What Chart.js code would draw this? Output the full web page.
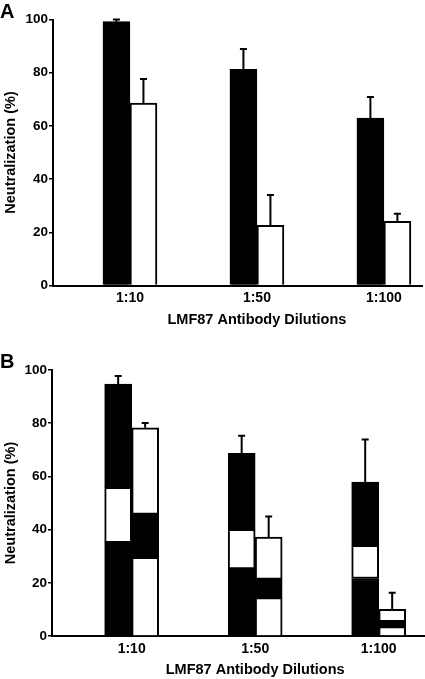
<!DOCTYPE html>
<html>
<head>
<meta charset="utf-8">
<script src="https://cdn.jsdelivr.net/npm/chart.js@4.4.1/dist/chart.umd.min.js"></script>
<style>
  html, body { margin: 0; padding: 0; background: #fff; }
  #wrap { position: relative; width: 425px; height: 679px; }
  .panel { position: absolute; left: 0; width: 425px; }
</style>
</head>
<body>
<div id="wrap">
  <div class="panel" style="top:0;height:335px"><canvas id="chartA" width="425" height="335"></canvas></div>
  <div class="panel" style="top:335px;height:344px"><canvas id="chartB" width="425" height="344"></canvas></div>
</div>
<script>
const dilutions = ['1:10', '1:50', '1:100'];
const yTicks = [0, 20, 40, 60, 80, 100];
const xTitle = 'LMF87 Antibody Dilutions';
const yTitle = 'Neutralization (%)';

// panel A
const aFilled = [99.2, 81.3, 62.9];
const aFilledErr = [100, 88.9, 70.9];
const aOpen = [68.6, 22.6, 24.1];
const aOpenErr = [77.6, 34, 27];

// panel B - every bar has a low band edge, a mid band edge and a top
const bFilledLow = [35.1, 25.2, 21.6];
const bFilledMid = [55.9, 40.1, 34.1];
const bFilledTop = [94.7, 68.7, 57.9];
const bFilledErr = [97.7, 75.3, 73.9];
const bOpenLow = [29.6, 14.4, 3.5];
const bOpenMid = [45.7, 21.3, 5.4];
const bOpenTop = [78.3, 37.2, 10.0];
const bOpenErr = [80.1, 44.9, 16.3];

const FONT = '"Liberation Sans", Arial, Helvetica, sans-serif';
Chart.defaults.font.family = FONT;
Chart.defaults.color = '#000';

const errorBars = {
    id: 'errorBars',
    afterDatasetsDraw(chart) {
        const ctx = chart.ctx;
        const y = chart.scales.y;
        chart.data.datasets.forEach((ds, di) => {
            if (!ds.errors) return;
            const meta = chart.getDatasetMeta(di);
            meta.data.forEach((bar, i) => {
                const top = y.getPixelForValue(ds.errors[i]);
                ctx.save();
                ctx.strokeStyle = '#000';
                ctx.lineWidth = 2;
                ctx.beginPath();
                ctx.moveTo(bar.x, bar.y);
                ctx.lineTo(bar.x, top);
                ctx.moveTo(bar.x - 3.5, top);
                ctx.lineTo(bar.x + 3.5, top);
                ctx.stroke();
                ctx.restore();
            });
        });
    }
};

// panel letter + x title (title sits under the middle group, not the axis centre)
const panelText = {
    id: 'panelText',
    afterDraw(chart, args, opts) {
        const {ctx, chartArea, scales} = chart;
        ctx.save();
        ctx.fillStyle = '#000';
        ctx.font = 'bold 20px ' + FONT;
        ctx.textAlign = 'left';
        ctx.textBaseline = 'alphabetic';
        ctx.fillText(opts.letter, 0, opts.letterY);
        ctx.font = 'bold 14.5px ' + FONT;
        ctx.textAlign = 'center';
        ctx.textBaseline = 'middle';
        ctx.fillText(xTitle, scales.x.getPixelForValue(2), chartArea.bottom + opts.titleGap);
        ctx.restore();
    }
};

const points = (vals) => vals.map((v, i) => ({x: i + 1, y: v}));
const diff = (hi, lo) => hi.map((v, i) => v - lo[i]);

const makeChart = (id, datasets, g) => {
    const stacked = g.stacked;
    return new Chart(document.getElementById(id), {
        type: 'bar',
        data: {datasets},
        options: {
            responsive: false,
            animation: false,
            devicePixelRatio: 1,
            layout: {padding: {top: g.top, right: g.right, left: 0, bottom: 0}},
            plugins: {
                legend: {display: false},
                tooltip: {enabled: false},
                panelText: {letter: g.letter, letterY: g.letterY, titleGap: g.titleGap}
            },
            datasets: {bar: {barThickness: 27, borderColor: '#000', borderWidth: 2}},
            scales: {
                x: {
                    type: 'linear',
                    offset: false,
                    stacked: stacked,
                    min: g.xMin,
                    max: g.xMax,
                    afterBuildTicks: (s) => { s.ticks = dilutions.map((d, i) => ({value: i + 1})); },
                    afterFit: (s) => { s.height = g.xHeight; },
                    grid: {display: false, offset: false},
                    border: {display: true, color: '#000', width: 2},
                    ticks: {
                        autoSkip: false,
                        maxRotation: 0,
                        padding: g.tickPad,
                        font: {size: 14, weight: 'bold'},
                        callback: (v) => dilutions[v - 1]
                    }
                },
                y: {
                    stacked: stacked,
                    min: 0,
                    max: 100,
                    afterBuildTicks: (s) => { s.ticks = yTicks.map((v) => ({value: v})); },
                    afterFit: (s) => { s.width = g.left; },
                    grid: {drawOnChartArea: false, drawTicks: true, tickLength: 4, color: '#000', lineWidth: 1.5},
                    border: {display: true, color: '#000', width: 2},
                    ticks: {padding: 1, font: {size: 13.5, weight: 'bold'}},
                    title: {
                        display: true,
                        text: yTitle,
                        padding: {top: 2, bottom: 0},
                        font: {size: 14.5, weight: 'bold'}
                    }
                }
            }
        },
        plugins: [errorBars, panelText]
    });
};

makeChart('chartA', [
    {label: 'filled', data: points(aFilled), backgroundColor: '#000', errors: aFilledErr},
    {label: 'open', data: points(aOpen), backgroundColor: '#fff', errors: aOpenErr}
], {stacked: false, top: 19.5, right: 3, left: 53, xMin: 0.394, xMax: 3.30, xHeight: 49.5,
    tickPad: -4, letter: 'A', letterY: 17.5, titleGap: 34.5});

makeChart('chartB', [
    {label: 'filled low', stack: 'filled', data: points(bFilledLow), backgroundColor: '#000'},
    {label: 'filled mid', stack: 'filled', data: points(diff(bFilledMid, bFilledLow)), backgroundColor: '#fff', borderSkipped: false},
    {label: 'filled top', stack: 'filled', data: points(diff(bFilledTop, bFilledMid)), backgroundColor: '#000', borderSkipped: false, errors: bFilledErr},
    {label: 'open low', stack: 'open', data: points(bOpenLow), backgroundColor: '#fff'},
    {label: 'open mid', stack: 'open', data: points(diff(bOpenMid, bOpenLow)), backgroundColor: '#000', borderSkipped: false},
    {label: 'open top', stack: 'open', data: points(diff(bOpenTop, bOpenMid)), backgroundColor: '#fff', borderSkipped: false, errors: bOpenErr}
], {stacked: true, top: 35, right: 0, left: 52, xMin: 0.355, xMax: 3.375, xHeight: 43,
    tickPad: -3, letter: 'B', letterY: 33, titleGap: 34});
</script>
</body>
</html>
